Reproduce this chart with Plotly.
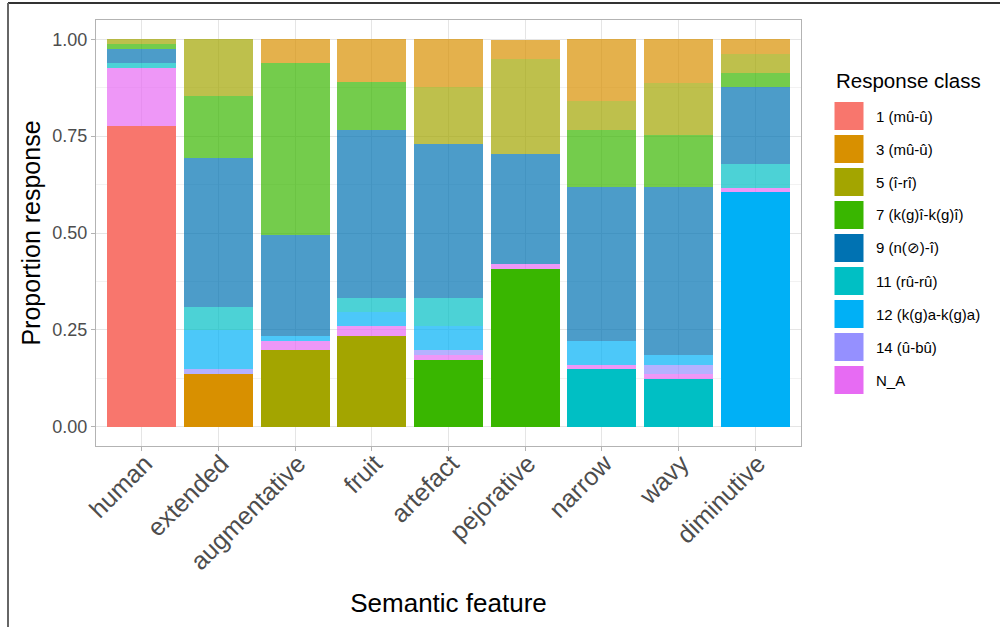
import plotly.graph_objects as go

features = ["human", "extended", "augmentative", "fruit", "artefact",
            "pejorative", "narrow", "wavy", "diminutive"]
classes = ["1 (mû-û)", "3 (mû-û)", "5 (î-rî)", "7 (k(g)î-k(g)î)", "9 (n(⊘)-î)",
           "11 (rû-rû)", "12 (k(g)a-k(g)a)", "14 (û-bû)", "N_A"]
colors = ["#F8766D", "#D89000", "#A3A500", "#39B600", "#0072B2",
          "#00BFC4", "#00B0F6", "#9590FF", "#E76BF3"]

# target (expected) class per feature -> drawn opaque at the bottom
target = ["1 (mû-û)", "3 (mû-û)", "5 (î-rî)", "5 (î-rî)", "7 (k(g)î-k(g)î)",
          "7 (k(g)î-k(g)î)", "11 (rû-rû)", "11 (rû-rû)", "12 (k(g)a-k(g)a)"]

# proportions per class, one value per feature
c1 = [0.777, 0, 0, 0, 0, 0, 0, 0, 0]
c3 = [0, 0.135, 0.062, 0.111, 0.124, 0.049, 0.161, 0.112, 0.038]
c5 = [0.013, 0.149, 0.197, 0.235, 0.148, 0.247, 0.074, 0.135, 0.049]
c7 = [0.013, 0.159, 0.445, 0.124, 0.173, 0.407, 0.148, 0.135, 0.037]
c9 = [0.036, 0.384, 0.259, 0.433, 0.396, 0.284, 0.396, 0.433, 0.198]
c11 = [0.013, 0.061, 0, 0.037, 0.074, 0, 0.148, 0.123, 0.062]
c12 = [0, 0.101, 0.013, 0.037, 0.062, 0, 0.062, 0.025, 0.605]
c14 = [0, 0.013, 0, 0, 0.012, 0, 0, 0.025, 0]
cNA = [0.148, 0, 0.025, 0.024, 0.012, 0.012, 0.012, 0.012, 0.012]
values = [c1, c3, c5, c7, c9, c11, c12, c14, cNA]

y_ticks = [0, 0.25, 0.5, 0.75, 1.0]
y_ticktext = ["0.00", "0.25", "0.50", "0.75", "1.00"]

FONT = "Liberation Sans, Arial, sans-serif"


def rgba(hexc, a):
    h = hexc.lstrip("#")
    r, g, b = int(h[0:2], 16), int(h[2:4], 16), int(h[4:6], 16)
    return f"rgba({r},{g},{b},{a})"


fig = go.Figure()

# opaque target segments (bottom of each bar)
for cls, col, vals in zip(classes, colors, values):
    ys = [v if t == cls and v > 0 else None for v, t in zip(vals, target)]
    if any(y is not None for y in ys):
        fig.add_trace(go.Bar(x=features, y=ys, name=cls, marker=dict(color=col, line=dict(width=0)),
                             showlegend=False))

# semi-transparent remaining segments, stacked from N_A up to 1
for cls, col, vals in reversed(list(zip(classes, colors, values))):
    ys = [v if t != cls and v > 0 else None for v, t in zip(vals, target)]
    if any(y is not None for y in ys):
        fig.add_trace(go.Bar(x=features, y=ys, name=cls,
                             marker=dict(color=rgba(col, 0.7), line=dict(width=0)),
                             showlegend=False))

# layout geometry (pixels)
W, H = 1000, 627
ML, MR, MT, MB = 96, 199, 20, 181
PW, PH = W - ML - MR, H - MT - MB


def px_x(px):
    return (px - ML) / PW


def px_y(py):
    return (H - MB - py) / PH


shapes = []
annotations = []
# outer frame lines (top and left)
shapes.append(dict(type="line", xref="paper", yref="paper", x0=px_x(8), x1=px_x(1000),
                   y0=px_y(3), y1=px_y(3), line=dict(color="#333333", width=2)))
shapes.append(dict(type="line", xref="paper", yref="paper", x0=px_x(8), x1=px_x(8),
                   y0=px_y(3), y1=px_y(627), line=dict(color="#666666", width=2)))

# manual legend
annotations.append(dict(text="Response class", xref="paper", yref="paper", x=px_x(834), y=px_y(80),
                        xanchor="left", yanchor="middle", showarrow=False,
                        font=dict(family=FONT, size=20.5, color="#000000")))
for i, (cls, col) in enumerate(zip(classes, colors)):
    cy = 116 + 33 * i
    shapes.append(dict(type="rect", xref="paper", yref="paper", x0=px_x(834), x1=px_x(864),
                       y0=px_y(cy - 14.5), y1=px_y(cy + 14.5), fillcolor=col,
                       line=dict(color="white", width=1)))
    annotations.append(dict(text=cls, xref="paper", yref="paper", x=px_x(874), y=px_y(cy),
                            xanchor="left", yanchor="middle", showarrow=False,
                            font=dict(family=FONT, size=15, color="#000000")))

fig.update_layout(
    barmode="stack",
    bargap=0.1,
    width=W, height=H,
    margin=dict(l=ML, r=MR, t=MT, b=MB, pad=0),
    paper_bgcolor="white",
    plot_bgcolor="white",
    font=dict(family=FONT, color="#4D4D4D"),
    showlegend=False,
    shapes=shapes,
    annotations=annotations,
    xaxis=dict(
        range=[-0.6, 8.6],
        tickangle=-45,
        tickfont=dict(size=25, color="#4D4D4D"),
        ticks="outside", ticklen=4, tickcolor="#B3B3B3",
        ticklabelstandoff=-12, ticklabelshift=3,
        showgrid=True, gridcolor="#E5E5E5", gridwidth=1,
        showline=True, linecolor="#B3B3B3", mirror=True, linewidth=1,
        title=dict(text="Semantic feature", font=dict(size=26, color="#000000"), standoff=19),
        zeroline=False,
    ),
    yaxis=dict(
        range=[-0.05, 1.05],
        tickvals=y_ticks, ticktext=y_ticktext,
        tickfont=dict(size=18, color="#4D4D4D"),
        ticks="outside", ticklen=4, tickcolor="#B3B3B3",
        showgrid=True, gridcolor="#E5E5E5", gridwidth=1,
        minor=dict(tickvals=[0.125, 0.375, 0.625, 0.875], showgrid=True,
                   gridcolor="#F2F2F2", gridwidth=1, ticks=""),
        showline=True, linecolor="#B3B3B3", mirror=True, linewidth=1,
        title=dict(text="Proportion response", font=dict(size=25, color="#000000"), standoff=4),
        zeroline=False,
    ),
)

fig.write_html("out.html", config={"displayModeBar": False},
               post_script="document.body.style.margin='0';document.body.style.overflow='hidden';")
